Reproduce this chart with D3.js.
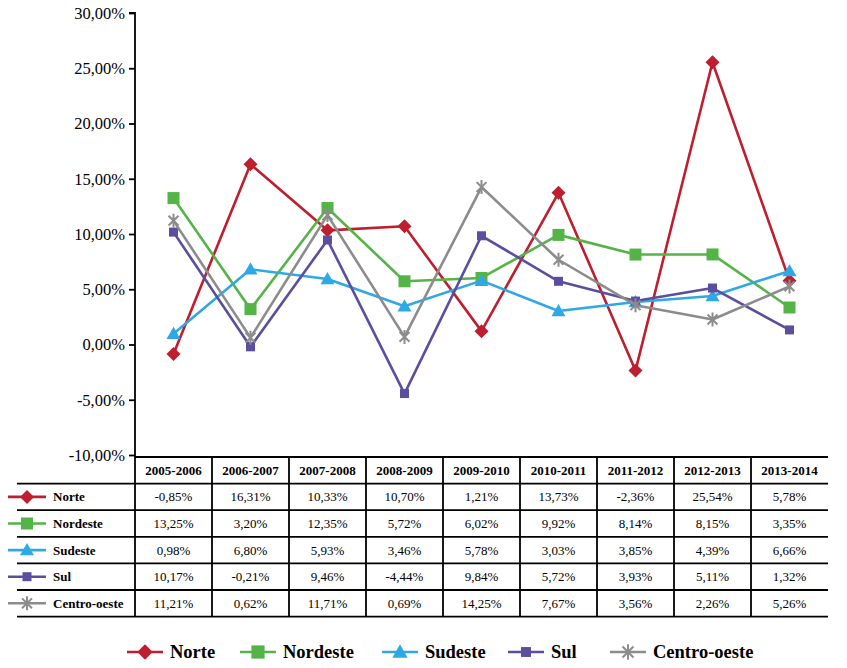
<!DOCTYPE html>
<html><head><meta charset="utf-8">
<script src="https://cdn.jsdelivr.net/npm/d3@7/dist/d3.min.js"></script>
<style>body{margin:0;background:#fff}svg{display:block}
svg text{font-family:"Liberation Serif","Times New Roman",Tinos,"DejaVu Serif",serif;}
</style>
</head><body>
<svg id="c" width="847" height="668"></svg>
<script>
const categories = ["2005-2006","2006-2007","2007-2008","2008-2009","2009-2010","2010-2011","2011-2012","2012-2013","2013-2014"];
const seriesNames = ["Norte","Nordeste","Sudeste","Sul","Centro-oeste"];
const norte = [-0.85,16.31,10.33,10.70,1.21,13.73,-2.36,25.54,5.78];
const nordeste = [13.25,3.20,12.35,5.72,6.02,9.92,8.14,8.15,3.35];
const sudeste = [0.98,6.80,5.93,3.46,5.78,3.03,3.85,4.39,6.66];
const sul = [10.17,-0.21,9.46,-4.44,9.84,5.72,3.93,5.11,1.32];
const centroOeste = [11.21,0.62,11.71,0.69,14.25,7.67,3.56,2.26,5.26];
const yTicks = [-10,-5,0,5,10,15,20,25,30];

(function(){
const seriesValues = [norte,nordeste,sudeste,sul,centroOeste];
const colors = ["#BE1E2D","#55B447","#2EA9E6","#5B4E9E","#8C8C8C"];
const shapes = ["diamond","square","triangle","smallsquare","asterisk"];

const svg = d3.select("#c");
const pLeft = 135, pRight = 828, pTop = 13, pBottom = 455;
const x = d3.scaleBand().domain(categories).range([pLeft, pRight]);
const y = d3.scaleLinear().domain([-10,30]).range([pBottom, pTop]);
const loc = d3.formatLocale({decimal:",", thousands:".", grouping:[3], currency:["R$",""], minus:"-"});
const f2 = loc.format(".2f");
const fmt = v => f2(v) + "%";

// y axis
const yAxis = d3.axisLeft(y).tickValues(yTicks).tickSize(6).tickPadding(4).tickFormat(fmt);
const ga = svg.append("g").attr("transform", `translate(${pLeft},0)`).call(yAxis);
ga.attr("font-family", null);
ga.select(".domain").attr("stroke","#000").attr("stroke-width",1.8).attr("d",`M-6,${pTop}H0V${pBottom+2}`);
ga.selectAll(".tick line").attr("stroke","#000").attr("stroke-width",1.8);
ga.selectAll(".tick text").attr("font-size","16.5px").attr("fill","#000");

function marker(g, shape, color, cx, cy, scale) {
  scale = scale || 1;
  if (shape === "diamond") {
    const s = 7*scale;
    g.append("path").attr("d",`M${cx},${cy-s}L${cx+s},${cy}L${cx},${cy+s}L${cx-s},${cy}Z`).attr("fill",color);
  } else if (shape === "square") {
    const s = 6*scale;
    g.append("rect").attr("x",cx-s).attr("y",cy-s).attr("width",2*s).attr("height",2*s).attr("fill",color);
  } else if (shape === "triangle") {
    const s = 7*scale;
    g.append("path").attr("d",`M${cx},${cy-s}L${cx+s},${cy+s*0.75}L${cx-s},${cy+s*0.75}Z`).attr("fill",color);
  } else if (shape === "smallsquare") {
    const s = 4.5*scale;
    g.append("rect").attr("x",cx-s).attr("y",cy-s).attr("width",2*s).attr("height",2*s).attr("fill",color);
  } else if (shape === "asterisk") {
    const s = 7*scale;
    const d = s*0.7071;
    g.append("path").attr("d",`M${cx-d},${cy-d}L${cx+d},${cy+d}M${cx+d},${cy-d}L${cx-d},${cy+d}M${cx},${cy-s}L${cx},${cy+s}`)
      .attr("stroke",color).attr("stroke-width",2).attr("fill","none");
  }
}

// lines
const line = d3.line().x((d,i)=>x(categories[i])+x.bandwidth()/2).y(d=>y(d));
const plot = svg.append("g");
seriesValues.forEach((vals, si) => {
  const g = plot.append("g");
  g.append("path").datum(vals).attr("d", line).attr("fill","none")
    .attr("stroke", colors[si]).attr("stroke-width", 2.6).attr("stroke-linejoin","round");
  vals.forEach((v,i) => marker(g, shapes[si], colors[si], x(categories[i])+x.bandwidth()/2, y(v)));
});

// table
const tTop = 457, rowH = 26.6, tLeft = 17;
const tg = svg.append("g");
const nRows = seriesNames.length;
tg.append("line").attr("x1",pLeft).attr("x2",pRight).attr("y1",tTop).attr("y2",tTop);
for (let r = 1; r <= nRows+1; r++) {
  tg.append("line").attr("x1",tLeft).attr("x2",pRight).attr("y1",tTop+r*rowH).attr("y2",tTop+r*rowH);
}
categories.forEach((c,i) => {
  tg.append("line").attr("x1",x(c)).attr("x2",x(c)).attr("y1",tTop).attr("y2",tTop+(nRows+1)*rowH);
});
tg.selectAll("line").attr("stroke","#000").attr("stroke-width",1.8);

categories.forEach((c,i) => {
  tg.append("text").attr("x",x(c)+x.bandwidth()/2).attr("y",tTop+rowH/2+4.5)
    .attr("text-anchor","middle").attr("font-weight","bold").attr("font-size","13px").text(c);
});
seriesValues.forEach((vals, si) => {
  const cy = tTop+(si+1)*rowH+rowH/2;
  tg.append("line").attr("x1",8).attr("x2",46).attr("y1",cy).attr("y2",cy).attr("stroke",colors[si]).attr("stroke-width",2.6);
  marker(tg, shapes[si], colors[si], 27, cy);
  tg.append("text").attr("x",53).attr("y",cy+4.5).attr("font-weight","bold").attr("font-size","13px").text(seriesNames[si]);
  vals.forEach((v,i) => {
    tg.append("text").attr("x",x(categories[i])+x.bandwidth()/2).attr("y",cy+4.5)
      .attr("text-anchor","middle").attr("font-size","13px").text(fmt(v));
  });
});

// bottom legend
const legX = [127,240,382,508,610];
const lg = svg.append("g");
const ly = 652;
seriesNames.forEach((n, si) => {
  const x0 = legX[si];
  lg.append("line").attr("x1",x0).attr("x2",x0+36).attr("y1",ly).attr("y2",ly).attr("stroke",colors[si]).attr("stroke-width",2.6);
  marker(lg, shapes[si], colors[si], x0+18, ly, 1.1);
  lg.append("text").attr("x",x0+43).attr("y",ly+6).attr("font-weight","bold").attr("font-size","18.5px").text(n);
});
})();
</script>
</body></html>
